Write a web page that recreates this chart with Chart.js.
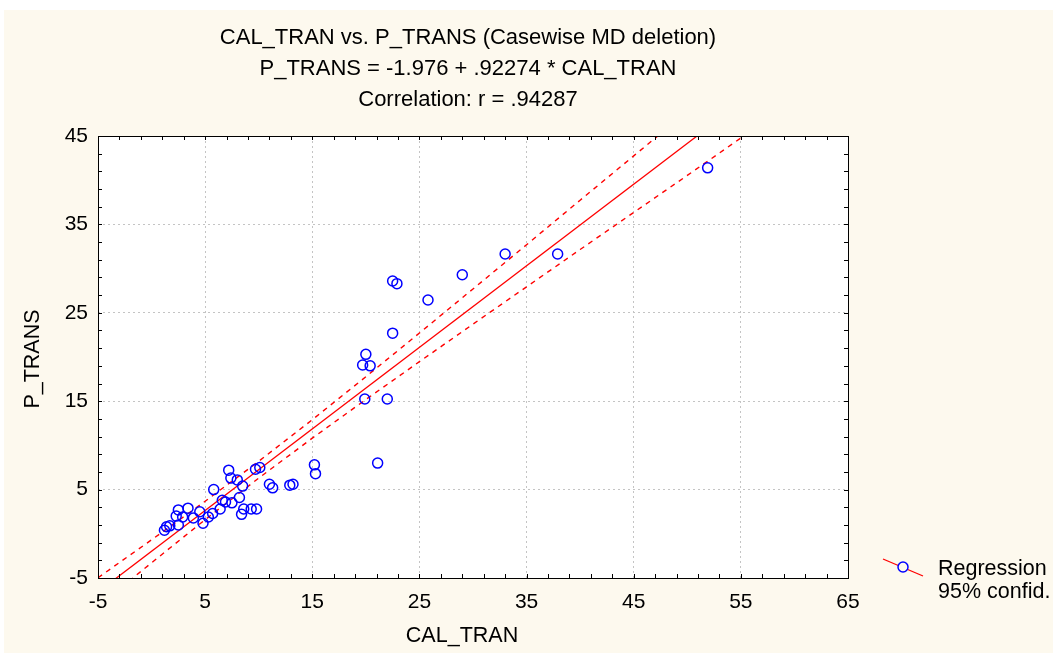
<!DOCTYPE html>
<html>
<head>
<meta charset="utf-8">
<script src="https://cdn.jsdelivr.net/npm/chart.js@4.4.1/dist/chart.umd.min.js"></script>
<style>
  html, body { margin: 0; padding: 0; background: #ffffff; }
  #wrap { position: absolute; left: 0; top: 0; width: 1053px; height: 653px; }
</style>
</head>
<body>
<div id="wrap"><canvas id="c" width="1053" height="653"></canvas></div>
<script>
// ---- Data ----
const titleLines = [
  "CAL_TRAN vs. P_TRANS (Casewise MD deletion)",
  "P_TRANS = -1.976 + .92274 * CAL_TRAN",
  "Correlation: r = .94287"
];
const xAxisTitle = "CAL_TRAN";
const yAxisTitle = "P_TRANS";
const legendLabels = ["Regression", "95% confid."];

const xTickValues = [-5, 5, 15, 25, 35, 45, 55, 65];
const yTickValues = [-5, 5, 15, 25, 35, 45];

const calTran = [
  1.2, 1.4, 1.7, 2.5, 2.3, 2.5, 2.9, 3.4, 3.9, 4.5,
  4.8, 5.3, 5.7, 5.8, 6.4, 6.6, 6.9, 7.5, 8.2, 8.6,
  8.4, 9.3, 9.8, 7.2, 7.4, 8.0, 8.5, 9.7, 10.1, 11.0,
  11.3, 12.9, 13.2, 15.2, 15.3, 21.1, 19.9, 22.0, 20.0, 19.7,
  20.4, 22.5, 22.5, 22.9, 25.8, 29.0, 33.0, 37.9, 51.9
];
const pTrans = [
  0.4, 0.8, 0.9, 1.0, 2.0, 2.7, 1.9, 2.9, 1.8, 2.5,
  1.2, 1.9, 2.3, 5.0, 2.8, 3.8, 3.6, 3.5, 4.1, 2.8,
  2.2, 2.8, 2.8, 7.2, 6.3, 6.1, 5.4, 7.3, 7.5, 5.6,
  5.2, 5.5, 5.6, 7.8, 6.8, 8.0, 15.25, 15.25, 20.3, 19.1,
  19.0, 22.7, 28.6, 28.3, 26.45, 29.3, 31.65, 31.65, 41.4
];

// Regression line from the equation printed in the title
const regIntercept = -1.976;
const regSlope = 0.92274;
const regX = [-5, 65];

// 95% confidence band
const bandX     = [-5,    0,     5,    10,   15,    20,    25,    30,    35,    40,    45,    50,    55];
const bandUpper = [-4.97, -0.68, 3.68, 8.2,  12.9,  17.77, 22.71, 27.7,  32.7,  37.74, 42.75, 47.78, 52.77];
const bandLower = [-8.21, -3.28, 1.6,  6.3,  10.82, 15.19, 19.47, 23.72, 27.94, 32.16, 36.35, 40.54, 44.77];

// ---- Build datasets ----
const pts = calTran.map((x, i) => ({ x: x, y: pTrans[i] }));
const regPts = regX.map(x => ({ x: x, y: regIntercept + regSlope * x }));
const upPts = bandX.map((x, i) => ({ x: x, y: bandUpper[i] }));
const loPts = bandX.map((x, i) => ({ x: x, y: bandLower[i] }));

const FONT = "'Liberation Sans', Arial, sans-serif";
const CREAM = '#fdf9ee';

const decor = {
  id: 'decor',
  beforeDraw(chart) {
    const ctx = chart.ctx, a = chart.chartArea;
    ctx.save();
    ctx.fillStyle = '#ffffff';
    ctx.fillRect(0, 0, chart.width, chart.height);
    ctx.fillStyle = CREAM;
    ctx.fillRect(4, 10, chart.width - 4, chart.height - 10);
    ctx.fillStyle = '#ffffff';
    ctx.fillRect(a.left, a.top, a.right - a.left, a.bottom - a.top);
    ctx.restore();
  },
  afterDraw(chart) {
    const ctx = chart.ctx, a = chart.chartArea;
    const xs = chart.scales.x, ys = chart.scales.y;
    ctx.save();
    // frame
    ctx.strokeStyle = '#000';
    ctx.lineWidth = 1;
    ctx.strokeRect(Math.round(a.left) + 0.5, Math.round(a.top) + 0.5,
                   Math.round(a.right - a.left), Math.round(a.bottom - a.top));
    // inward tick marks every 2 units
    const tl = 4;
    ctx.beginPath();
    for (let v = xs.min; v <= xs.max + 1e-9; v += 2) {
      const px = Math.round(xs.getPixelForValue(v)) + 0.5;
      ctx.moveTo(px, a.bottom); ctx.lineTo(px, a.bottom - tl);
      ctx.moveTo(px, a.top); ctx.lineTo(px, a.top + tl);
    }
    for (let v = ys.min; v <= ys.max + 1e-9; v += 2) {
      const py = Math.round(ys.getPixelForValue(v)) + 0.5;
      ctx.moveTo(a.left, py); ctx.lineTo(a.left + tl, py);
      ctx.moveTo(a.right, py); ctx.lineTo(a.right - tl, py);
    }
    ctx.stroke();

    // titles
    ctx.fillStyle = '#000';
    ctx.font = '22px ' + FONT;
    ctx.textAlign = 'center';
    ctx.textBaseline = 'middle';
    const cx = 468;
    [38, 69, 100].forEach((y, i) => ctx.fillText(titleLines[i], cx, y));

    // x axis title
    ctx.font = '21.5px ' + FONT;
    ctx.fillText(xAxisTitle, 462, 636);
    // y axis title
    ctx.save();
    ctx.translate(33, 359);
    ctx.rotate(-Math.PI / 2);
    ctx.fillText(yAxisTitle, 0, 0);
    ctx.restore();

    // legend
    ctx.strokeStyle = '#ff0000';
    ctx.lineWidth = 1.3;
    ctx.beginPath();
    ctx.moveTo(883, 559); ctx.lineTo(923, 576);
    ctx.stroke();
    ctx.beginPath();
    ctx.arc(903, 567, 5, 0, Math.PI * 2);
    ctx.fillStyle = CREAM;
    ctx.fill();
    ctx.strokeStyle = '#0000ff';
    ctx.lineWidth = 1.5;
    ctx.stroke();
    ctx.fillStyle = '#000';
    ctx.textAlign = 'left';
    ctx.font = '21.5px ' + FONT;
    ctx.fillText(legendLabels[0], 938, 569);
    ctx.fillText(legendLabels[1], 938, 592);
    ctx.restore();
  }
};

const gridColor = (ctx) => {
  const t = ctx.tick;
  if (!t) return 'rgba(0,0,0,0)';
  return '#c4c4c4';
};

new Chart(document.getElementById('c'), {
  type: 'scatter',
  data: {
    datasets: [
      {
        label: 'Regression',
        type: 'line',
        data: regPts,
        borderColor: '#ff0000',
        borderWidth: 1.3,
        pointRadius: 0,
        fill: false,
        order: 2
      },
      {
        label: 'upper',
        type: 'line',
        data: upPts,
        borderColor: '#ff0000',
        borderWidth: 1.4,
        borderDash: [5, 5],
        pointRadius: 0,
        tension: 0,
        fill: false,
        order: 3
      },
      {
        label: 'lower',
        type: 'line',
        data: loPts,
        borderColor: '#ff0000',
        borderWidth: 1.4,
        borderDash: [5, 5],
        pointRadius: 0,
        tension: 0,
        fill: false,
        order: 4
      },
      {
        label: 'P_TRANS',
        data: pts,
        pointStyle: 'circle',
        pointRadius: 5,
        pointHoverRadius: 5,
        borderColor: '#0000ff',
        backgroundColor: 'rgba(0,0,0,0)',
        borderWidth: 1.5,
        order: 1
      }
    ]
  },
  options: {
    responsive: false,
    animation: false,
    events: [],
    layout: { padding: { left: 20, top: 136, right: 205, bottom: 5 } },
    plugins: {
      legend: { display: false },
      title: { display: false },
      tooltip: { enabled: false }
    },
    scales: {
      x: {
        type: 'linear',
        min: -5, max: 65,
        afterBuildTicks: (s) => { s.ticks = xTickValues.map(v => ({ value: v })); },
        afterFit: (s) => { s.height = 70; },
        grid: { color: gridColor, lineWidth: 1, drawTicks: false },
        border: { display: false, dash: [2, 3] },
        ticks: { color: '#000', font: { family: FONT, size: 21 }, padding: 12, maxRotation: 0, autoSkip: false },
        title: { display: false }
      },
      y: {
        type: 'linear',
        min: -5, max: 45,
        afterBuildTicks: (s) => { s.ticks = yTickValues.map(v => ({ value: v })); },
        afterFit: (s) => { s.width = 78; },
        grid: { color: gridColor, lineWidth: 1, drawTicks: false },
        border: { display: false, dash: [2, 3] },
        ticks: { color: '#000', font: { family: FONT, size: 21 }, padding: 10, autoSkip: false },
        title: { display: false }
      }
    }
  },
  plugins: [decor]
});
</script>
</body>
</html>
